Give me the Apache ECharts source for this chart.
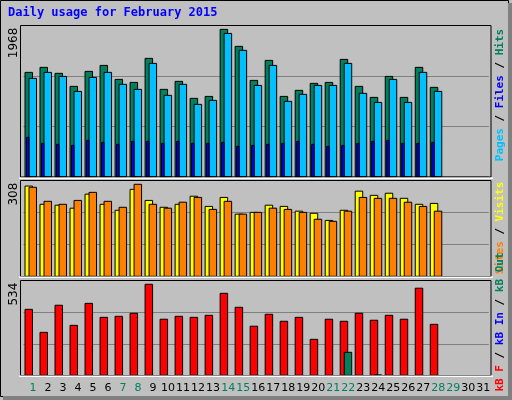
<!DOCTYPE html>
<html>
<head>
<meta charset="utf-8">
<script src="https://cdn.jsdelivr.net/npm/echarts@6/dist/echarts.min.js"></script>
<style>
  html, body { margin: 0; padding: 0; background: #c0c0c0; }
  #chart { width: 512px; height: 400px; }
</style>
</head>
<body>
<div id="chart"></div>
<script>
const days = Array.from({ length: 31 }, (_, i) => String(i + 1));
const weekendDays = [1, 7, 8, 14, 15, 21, 22, 28, 29];

const hits = [1393, 1460, 1380, 1206, 1406, 1486, 1299, 1259, 1580, 1166, 1273, 1046, 1072, 1967,
  1740, 1286, 1553, 1072, 1153, 1246, 1259, 1566, 1206, 1059, 1339, 1059, 1460, 1193];
const files = [1313, 1393, 1339, 1139, 1326, 1393, 1233, 1166, 1513, 1086, 1233, 966, 1019, 1913,
  1687, 1219, 1486, 1006, 1099, 1219, 1219, 1513, 1113, 992, 1299, 992, 1393, 1139];
const pages = [525, 445, 432, 418, 485, 458, 432, 472, 472, 445, 472, 445, 445, 458,
  405, 418, 432, 445, 472, 432, 405, 418, 445, 472, 485, 445, 445, 458];
const visits = [302, 241, 238, 228, 275, 241, 221, 291, 254, 231, 241, 268, 234, 264,
  208, 214, 238, 234, 218, 211, 187, 221, 285, 271, 278, 261, 241, 244];
const sites = [298, 251, 241, 254, 281, 251, 231, 308, 241, 228, 248, 264, 224, 251,
  208, 214, 228, 224, 214, 191, 184, 218, 264, 261, 261, 248, 234, 218];
const kbF = [387, 252, 411, 293, 422, 340, 346, 364, 534, 329, 346, 340, 352, 481,
  399, 288, 358, 317, 340, 211, 329, 317, 364, 323, 352, 329, 511, 299];
const kbIn = [];
const kbOut = [0, 0, 0, 0, 0, 0, 0, 0, 0, 0, 0, 0, 0, 0,
  0, 0, 0, 0, 0, 0, 0, 135, 0, 2, 0, 0, 0, 0];

const panels = [
  { top: 25.7, height: 151, max: 2016, label: "1968" },
  { top: 180.7, height: 95.6, max: 320, label: "308" },
  { top: 280.7, height: 94.6, max: 555, label: "534" },
];

function barSeries(grid, values, color, offset, width) {
  return {
    type: "custom",
    xAxisIndex: grid,
    yAxisIndex: grid,
    data: values.map((v, i) => [i, v]),
    encode: { x: 0, y: 1 },
    renderItem(params, api) {
      const v = api.value(1);
      if (!v) return null;
      const top = api.coord([api.value(0), v]);
      const base = api.coord([api.value(0), 0]);
      return {
        type: "rect",
        shape: { x: top[0] + offset, y: top[1], width: width, height: base[1] - top[1] },
        style: { fill: color, stroke: "#000", lineWidth: 1 },
      };
    },
  };
}

const gridLeft = 23.5, gridWidth = 465.3;

const option = {
  backgroundColor: "#c0c0c0",
  animation: false,
  grid: panels.map(p => ({ left: gridLeft, width: gridWidth, top: p.top, height: p.height, show: false })),
  xAxis: panels.map((p, k) => ({
    type: "category",
    gridIndex: k,
    data: days,
    axisLine: { show: false },
    axisTick: { show: false },
    axisLabel: k === 2 ? {
      show: true,
      interval: 0,
      margin: 7,
      fontFamily: "DejaVu Sans",
      fontSize: 11,
      padding: [0, 0, 0, 4],
      formatter: v => weekendDays.includes(+v) ? `{w|${v}}` : `{d|${v}}`,
      rich: {
        w: { color: "#00805c", fontSize: 11, fontFamily: "DejaVu Sans" },
        d: { color: "#000", fontSize: 11, fontFamily: "DejaVu Sans" },
      },
    } : { show: false },
  })),
  yAxis: panels.map((p, k) => ({
    type: "value",
    gridIndex: k,
    min: 0,
    max: p.max,
    interval: p.max / 3,
    axisLabel: { show: false },
    axisLine: { show: false },
    axisTick: { show: false },
    splitLine: { show: true, lineStyle: { color: "#808080", width: 1 } },
  })),
  series: [
    barSeries(0, hits, "#00805c", -6, 7.5),
    barSeries(0, files, "#00c0ff", -2, 7.5),
    barSeries(0, pages, "#0000ff", -4.5, 2.5),
    barSeries(1, visits, "#ffff00", -6, 7.5),
    barSeries(1, sites, "#ff8000", -2, 7.5),
    barSeries(2, kbF, "#ff0000", -6, 7.5),
    barSeries(2, kbIn, "#0000ff", -4, 7.5),
    barSeries(2, kbOut, "#00805c", -2, 7.5),
  ],
  graphic: [
    { type: "rect", shape: { x: 0.5, y: 0.5, width: 508, height: 396 }, style: { fill: "none", stroke: "#000", lineWidth: 1 }, z: 0 },
    { type: "rect", shape: { x: 3, y: 396, width: 509, height: 4 }, style: { fill: "#808080" } },
    { type: "rect", shape: { x: 508, y: 3, width: 4, height: 397 }, style: { fill: "#808080" } },
    { type: "text", left: 8, top: 7, style: { text: "Daily usage for February 2015", fill: "#0000ff", font: "bold 12px 'DejaVu Sans Mono'" } },
    ...panels.map(p => ({
      type: "rect", z: 10,
      shape: { x: 20.5, y: Math.round(p.top) - 0.5, width: 470.5, height: p.height + 0.5 },
      style: { fill: "none", stroke: "#000", lineWidth: 1 },
    })),
    ...panels.map(p => ({
      type: "rect", z: 10,
      shape: { x: 19, y: Math.round(p.top + p.height) + 0.5, width: 474, height: 1.5 },
      style: { fill: "#fff" },
    })),
    ...panels.map(p => ({
      type: "text", x: 14, y: p.top + 2, rotation: Math.PI / 2,
      style: { text: p.label, fill: "#000", font: "12px 'DejaVu Sans'", align: "right", verticalAlign: "middle" },
    })),
    {
      type: "text", x: 500, y: 95, rotation: Math.PI / 2,
      style: {
        text: "{a|Pages}{s| / }{b|Files}{s| / }{c|Hits}",
        align: "center", verticalAlign: "middle",
        rich: {
          a: { fill: "#00c0ff", font: "bold 11px 'DejaVu Sans Mono'" },
          b: { fill: "#0000ff", font: "bold 11px 'DejaVu Sans Mono'" },
          c: { fill: "#00805c", font: "bold 11px 'DejaVu Sans Mono'" },
          s: { fill: "#000", font: "bold 11px 'DejaVu Sans Mono'" },
        },
      },
    },
    {
      type: "text", x: 500, y: 228, rotation: Math.PI / 2,
      style: {
        text: "{a|Sites}{s| / }{b|Visits}",
        align: "center", verticalAlign: "middle",
        rich: {
          a: { fill: "#ff8000", font: "bold 11px 'DejaVu Sans Mono'" },
          b: { fill: "#ffff00", font: "bold 11px 'DejaVu Sans Mono'" },
          s: { fill: "#000", font: "bold 11px 'DejaVu Sans Mono'" },
        },
      },
    },
    {
      type: "text", x: 500, y: 322, rotation: Math.PI / 2,
      style: {
        text: "{a|kB F}{s| / }{b|kB In}{s| / }{c|kB Out}",
        align: "center", verticalAlign: "middle",
        rich: {
          a: { fill: "#ff0000", font: "bold 11px 'DejaVu Sans Mono'" },
          b: { fill: "#0000ff", font: "bold 11px 'DejaVu Sans Mono'" },
          c: { fill: "#00805c", font: "bold 11px 'DejaVu Sans Mono'" },
          s: { fill: "#000", font: "bold 11px 'DejaVu Sans Mono'" },
        },
      },
    },
  ],
};

const chart = echarts.init(document.getElementById("chart"));
chart.setOption(option);
</script>
</body>
</html>
